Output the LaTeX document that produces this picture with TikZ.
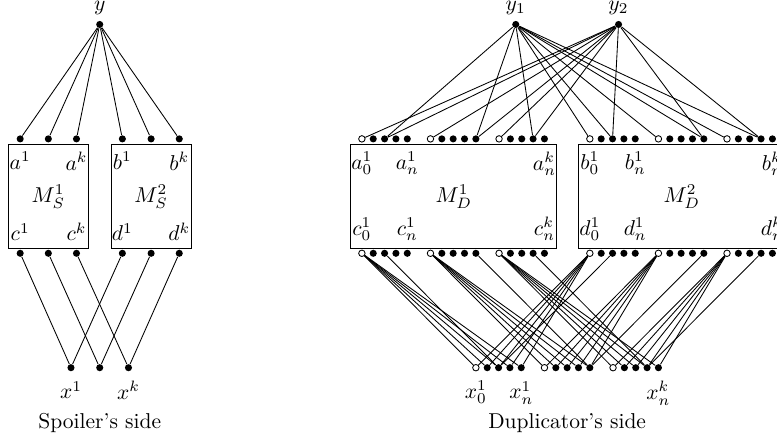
\documentclass[tikz,border=0pt]{standalone}
\usepackage{amsmath}
\usepackage{tikz}
\usetikzlibrary{positioning}
\tikzset{
  vtx/.style={circle, fill=black, inner sep=0pt, minimum size=3.3pt},
  ovtx/.style={circle, draw=black, fill=white, inner sep=0pt, minimum size=3.0pt},
  gadget/.style={draw, inner sep=0pt, minimum height=1.69cm},
  toplbl/.style={anchor=north},
  botlbl/.style={anchor=south},
  wire/.style={line width=0.4pt}
}

\begin{document}
\begin{tikzpicture}
  \useasboundingbox (0,0) rectangle (12.70,7.21);
  \clip (0,0) rectangle (12.70,7.21);

  % Spoiler's side
  \node[vtx] (y) at (1.63,6.81) {};
  \node[above=-0.8pt of y] (ylbl) {$y$};
  \node[gadget, minimum width=1.31cm] (ms1) at (0.79,4.00) {$M_S^1$};
  \node[gadget, minimum width=1.31cm] (ms2) at (2.47,4.00) {$M_S^2$};
  \foreach \i/\xa/\xb/\xx in {1/0.33/2.00/1.16, 2/0.79/2.47/1.63, 3/1.25/2.93/2.10} {
    \node[vtx] (a\i) at (\xa,4.94) {};
    \node[vtx] (c\i) at (\xa,3.07) {};
    \node[vtx] (b\i) at (\xb,4.94) {};
    \node[vtx] (d\i) at (\xb,3.07) {};
    \node[vtx] (x\i) at (\xx,1.20) {};
  }
  \foreach \i/\s in {1/1,3/k} {
    \node[toplbl] (la\i) at (a\i |- ms1.north) {$a^\s$};
    \node[toplbl] (lb\i) at (b\i |- ms2.north) {$b^\s$};
    \node[botlbl] (lc\i) at (c\i |- ms1.south) {$c^\s$};
    \node[botlbl] (ld\i) at (d\i |- ms2.south) {$d^\s$};
    \node[below=1pt of x\i] (lx\i) {$x^\s$};
  }
  \foreach \i in {1,2,3}
    \draw[wire] (y) -- (a\i) (y) -- (b\i) (c\i) -- (x\i) (d\i) -- (x\i);
  \node (spoiler) at (1.63,0.29) {Spoiler's side};

  % Duplicator's side
  \node[vtx] (y1) at (8.43,6.81) {};
  \node[vtx] (y2) at (10.11,6.81) {};
  \node[above=-0.8pt of y1] (y1lbl) {$y_1$};
  \node[above=-0.8pt of y2] (y2lbl) {$y_2$};
  \node[gadget, minimum width=3.366cm] (md1) at (7.418,4.00) {$M_D^1$};
  \node[gadget, minimum width=3.366cm] (md2) at (11.144,4.00) {$M_D^2$};
  \foreach \i in {1,2,3} {
    \foreach \t in {0,...,4} {
      \pgfmathsetmacro\xa{5.915+1.121*(\i-1)+0.1855*\t}
      \pgfmathsetmacro\xb{\xa+3.726}
      \pgfmathsetmacro\xx{7.778+1.121*(\i-1)+0.1855*\t}
      \ifnum\t=0 \def\vst{ovtx}\else\def\vst{vtx}\fi
      \node[\vst] (pa\i\t) at (\xa,4.94) {};
      \node[\vst] (pc\i\t) at (\xa,3.07) {};
      \node[\vst] (pb\i\t) at (\xb,4.94) {};
      \node[\vst] (pd\i\t) at (\xb,3.07) {};
      \node[\vst] (px\i\t) at (\xx,1.20) {};
    }
  }
  \foreach \i/\t/\s/\r in {1/0/1/0, 1/4/1/n, 3/4/k/n} {
    \node[toplbl] (lpa\i\t) at (pa\i\t |- md1.north) {$a_\r^\s$};
    \node[toplbl] (lpb\i\t) at (pb\i\t |- md2.north) {$b_\r^\s$};
    \node[botlbl] (lpc\i\t) at (pc\i\t |- md1.south) {$c_\r^\s$};
    \node[botlbl] (lpd\i\t) at (pd\i\t |- md2.south) {$d_\r^\s$};
    \node[below=1pt of px\i\t] (lpx\i\t) {$x_\r^\s$};
  }
  \foreach \i/\j in {1/2,2/4,3/3} {
    \draw[wire] (y2) -- (pa\i0) (y1) -- (pb\i0);
    \draw[wire] (y1) -- (pa\i\j) (y2) -- (pa\i\j) (y1) -- (pb\i\j) (y2) -- (pb\i\j);
    \foreach \t in {0,...,4}
      \draw[wire] (pc\i0) -- (px\i\t) (pd\i0) -- (px\i\t);
    \draw[wire] (pc\i\j) -- (px\i\j) (pd\i\j) -- (px\i\j);
  }
  \node (duplicator) at (9.27,0.29) {Duplicator's side};
\end{tikzpicture}
\end{document}
